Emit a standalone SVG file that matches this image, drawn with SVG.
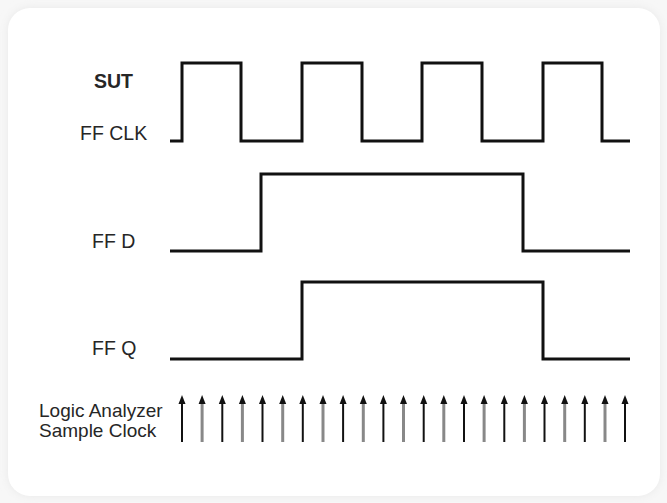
<svg xmlns="http://www.w3.org/2000/svg" width="667" height="503" viewBox="0 0 667 503">
<defs>
<style>
.lbl{font-family:"Liberation Sans",Arial,sans-serif;font-size:19.5px;fill:#262626}
.s{font-size:19px}
.b{font-weight:bold}
.w{fill:none;stroke:#111;stroke-width:3;stroke-linejoin:miter}
.ak{stroke:#111;stroke-width:2}
.ag{stroke:#888;stroke-width:3}
</style>
<marker id="hk" viewBox="0 0 9 8" refX="2" refY="4" markerWidth="9" markerHeight="8" markerUnits="userSpaceOnUse" orient="auto"><path d="M0,0.5 L9,4 L0,7.5 Z" fill="#111"/></marker>
<filter id="sh" x="-5%" y="-5%" width="110%" height="110%"><feGaussianBlur stdDeviation="4"/></filter>
</defs>
<rect x="0" y="0" width="667" height="503" fill="#f7f7f7"/>
<rect x="8" y="8" width="652" height="488" rx="22" fill="#e8e8e8" filter="url(#sh)"/>
<rect x="8" y="8" width="652" height="488" rx="22" fill="#ffffff"/>
<g id="labels">
<text class="lbl b" x="94" y="88">SUT</text>
<text class="lbl" x="80" y="140">FF CLK</text>
<text class="lbl" x="92" y="248">FF D</text>
<text class="lbl" x="92" y="355">FF Q</text>
<text class="lbl s" x="39" y="417">Logic Analyzer</text>
<text class="lbl s" x="39" y="437">Sample Clock</text>
</g>
<g id="ffclk"><path class="w" d="M170,141 H182 V63 H241 V141 H302 V63 H362 V141 H422 V63 H482 V141 H543 V63 H602 V141 H630"/></g>
<g id="ffd"><path class="w" d="M170,251 H261 V174 H523 V251 H630"/></g>
<g id="ffq"><path class="w" d="M170,359 H302 V282 H543 V359 H630"/></g>
<g id="sample-clock">
<line class="ak" x1="182" y1="442" x2="182" y2="402" marker-end="url(#hk)"/>
<line class="ag" x1="202.1" y1="442" x2="202.1" y2="402" marker-end="url(#hk)"/>
<line class="ak" x1="222.3" y1="442" x2="222.3" y2="402" marker-end="url(#hk)"/>
<line class="ag" x1="242.4" y1="442" x2="242.4" y2="402" marker-end="url(#hk)"/>
<line class="ak" x1="262.5" y1="442" x2="262.5" y2="402" marker-end="url(#hk)"/>
<line class="ag" x1="282.7" y1="442" x2="282.7" y2="402" marker-end="url(#hk)"/>
<line class="ak" x1="302.8" y1="442" x2="302.8" y2="402" marker-end="url(#hk)"/>
<line class="ag" x1="323" y1="442" x2="323" y2="402" marker-end="url(#hk)"/>
<line class="ak" x1="343.1" y1="442" x2="343.1" y2="402" marker-end="url(#hk)"/>
<line class="ag" x1="363.3" y1="442" x2="363.3" y2="402" marker-end="url(#hk)"/>
<line class="ak" x1="383.4" y1="442" x2="383.4" y2="402" marker-end="url(#hk)"/>
<line class="ag" x1="403.5" y1="442" x2="403.5" y2="402" marker-end="url(#hk)"/>
<line class="ak" x1="423.7" y1="442" x2="423.7" y2="402" marker-end="url(#hk)"/>
<line class="ag" x1="443.8" y1="442" x2="443.8" y2="402" marker-end="url(#hk)"/>
<line class="ak" x1="464" y1="442" x2="464" y2="402" marker-end="url(#hk)"/>
<line class="ag" x1="484.1" y1="442" x2="484.1" y2="402" marker-end="url(#hk)"/>
<line class="ak" x1="504.3" y1="442" x2="504.3" y2="402" marker-end="url(#hk)"/>
<line class="ag" x1="524.4" y1="442" x2="524.4" y2="402" marker-end="url(#hk)"/>
<line class="ak" x1="544.5" y1="442" x2="544.5" y2="402" marker-end="url(#hk)"/>
<line class="ag" x1="564.7" y1="442" x2="564.7" y2="402" marker-end="url(#hk)"/>
<line class="ak" x1="584.8" y1="442" x2="584.8" y2="402" marker-end="url(#hk)"/>
<line class="ag" x1="605" y1="442" x2="605" y2="402" marker-end="url(#hk)"/>
<line class="ak" x1="625" y1="442" x2="625" y2="402" marker-end="url(#hk)"/>
</g>
</svg>
